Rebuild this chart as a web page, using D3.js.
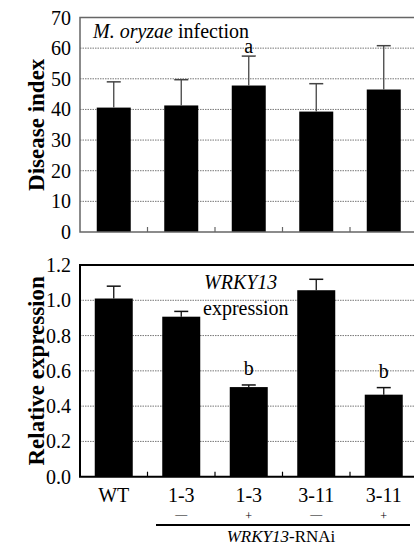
<!DOCTYPE html>
<html><head><meta charset="utf-8">
<script src="https://cdn.jsdelivr.net/npm/d3@7"></script>
</head>
<body style="margin:0;background:#fff">
<svg id="chart" width="414" height="552"></svg>
<script>
const categories = ["WT", "1-3", "1-3", "3-11", "3-11"];
const treatment = ["", "\u2014", "+", "\u2014", "+"];
const diseaseIndex = [40.6, 41.3, 47.8, 39.3, 46.5];
const diseaseErr = [8.4, 8.4, 9.6, 9.1, 14.3];
const diseaseLetters = ["", "", "a", "", ""];
const expression = [1.01, 0.907, 0.508, 1.057, 0.465];
const expressionErr = [0.07, 0.03, 0.012, 0.062, 0.04];
const expressionLetters = ["", "", "b", "", "b"];
const diseaseTicks = [0, 10, 20, 30, 40, 50, 60, 70];
const exprTicks = [0, 0.2, 0.4, 0.6, 0.8, 1.0, 1.2];

const FONT = '"Liberation Serif"';
const svg = d3.select("#chart");
const left = 80, right = 417.5;
const x = d3.scaleBand().domain(d3.range(categories.length)).range([left, right]);

function txt(sel) { return sel.style("font-family", FONT); }

function panel(opts) {
  const g = svg.append("g");
  const y = d3.scaleLinear().domain(opts.domain).range([opts.bottom, opts.top]);
  g.selectAll(".grid").data(opts.ticks.slice(1, -1)).join("line")
    .attr("x1", left).attr("x2", 414).attr("y1", d => y(d)).attr("y2", d => y(d))
    .attr("stroke", "#777").attr("stroke-width", 1).attr("stroke-dasharray", "1.5,1");
  const bw = opts.barWidth;
  g.selectAll(".bar").data(opts.values).join("rect")
    .attr("x", (d, i) => x(i) + x.bandwidth() / 2 - bw / 2)
    .attr("width", bw)
    .attr("y", d => y(d)).attr("height", d => y(0) - y(d))
    .attr("fill", "#000");
  g.selectAll(".err").data(opts.values).join("line")
    .attr("x1", (d, i) => x(i) + x.bandwidth() / 2).attr("x2", (d, i) => x(i) + x.bandwidth() / 2)
    .attr("y1", d => y(d)).attr("y2", (d, i) => y(d + opts.errs[i]))
    .attr("stroke", opts.errColor).attr("stroke-width", 1.3);
  g.selectAll(".cap").data(opts.values).join("line")
    .attr("x1", (d, i) => x(i) + x.bandwidth() / 2 - 7).attr("x2", (d, i) => x(i) + x.bandwidth() / 2 + 7)
    .attr("y1", (d, i) => y(d + opts.errs[i])).attr("y2", (d, i) => y(d + opts.errs[i]))
    .attr("stroke", opts.errColor).attr("stroke-width", 1.5);
  txt(g.selectAll(".letter").data(opts.letters).join("text"))
    .attr("x", (d, i) => x(i) + x.bandwidth() / 2)
    .attr("y", (d, i) => y(opts.values[i] + opts.errs[i]) - opts.letterGap)
    .attr("text-anchor", "middle").attr("font-size", 20).text(d => d);
  g.append("path")
    .attr("d", `M${right},${opts.top}H${left}V${opts.bottom}H${right}`)
    .attr("fill", "none").attr("stroke", opts.frameColor).attr("stroke-width", opts.frameWidth);
  g.selectAll(".ctick").data(d3.range(1, categories.length)).join("line")
    .attr("x1", d => x(d)).attr("x2", d => x(d))
    .attr("y1", opts.bottom).attr("y2", opts.bottom - 5)
    .attr("stroke", opts.frameColor).attr("stroke-width", 1.2);
  txt(g.selectAll(".ylab").data(opts.ticks).join("text"))
    .attr("x", 71).attr("y", d => y(d)).attr("dy", "0.35em")
    .attr("text-anchor", "end").attr("font-size", 20)
    .text(opts.fmt);
  txt(g.append("text"))
    .attr("transform", `translate(${opts.titleX},${(opts.top + opts.bottom) / 2}) rotate(-90)`)
    .attr("text-anchor", "middle").attr("font-size", 23).attr("font-weight", "bold")
    .text(opts.title);
  return {g, y};
}

const p1 = panel({
  domain: [0, 70], top: 17.5, bottom: 232, ticks: diseaseTicks,
  values: diseaseIndex, errs: diseaseErr, letters: diseaseLetters,
  barWidth: 34, errColor: "#444", frameColor: "#666", frameWidth: 1.5,
  letterGap: 3, fmt: d3.format("d"), title: "Disease index", titleX: 44
});
const t1 = txt(p1.g.append("text")).attr("x", 93).attr("y", 38).attr("font-size", 20);
t1.append("tspan").attr("font-style", "italic").text("M. oryzae");
t1.append("tspan").text(" infection");

const p2 = panel({
  domain: [0, 1.2], top: 265, bottom: 476.7, ticks: exprTicks,
  values: expression, errs: expressionErr, letters: expressionLetters,
  barWidth: 38, errColor: "#111", frameColor: "#000", frameWidth: 2,
  letterGap: 10, fmt: d3.format(".1f"), title: "Relative expression", titleX: 44
});
txt(p2.g.append("text")).attr("x", 204).attr("y", 289).attr("font-size", 20)
  .attr("font-style", "italic").text("WRKY13");
txt(p2.g.append("text")).attr("x", 203).attr("y", 315).attr("font-size", 20).text("expression");

txt(svg.selectAll(".xlab").data(categories).join("text"))
  .attr("x", (d, i) => x(i) + x.bandwidth() / 2).attr("y", 501.5)
  .attr("text-anchor", "middle").attr("font-size", 20).text(d => d);
txt(svg.selectAll(".treat").data(treatment).join("text"))
  .attr("x", (d, i) => x(i) + x.bandwidth() / 2)
  .attr("y", d => d === "+" ? 520 : 518)
  .attr("text-anchor", "middle")
  .attr("font-size", 12)
  .text(d => d);
svg.append("line").attr("x1", 156).attr("x2", 410).attr("y1", 525).attr("y2", 525)
  .attr("stroke", "#000").attr("stroke-width", 2);
const lab = txt(svg.append("text")).attr("x", 281).attr("y", 542).attr("text-anchor", "middle").attr("font-size", 17);
lab.append("tspan").attr("font-style", "italic").text("WRKY13");
lab.append("tspan").text("-RNAi");
</script>
</body></html>
